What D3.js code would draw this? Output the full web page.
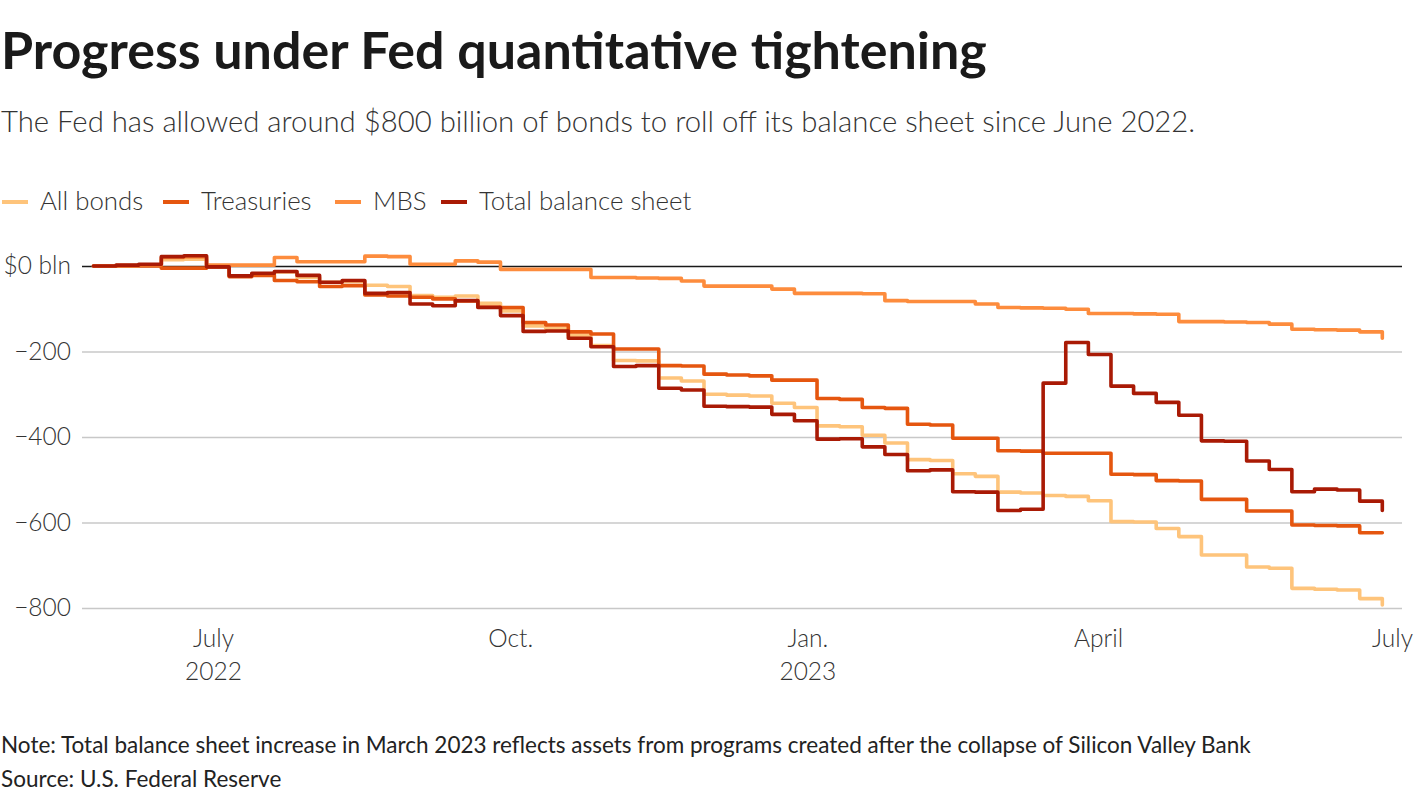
<!DOCTYPE html>
<html>
<head>
<meta charset="utf-8">
<script src="https://cdn.jsdelivr.net/npm/d3@7"></script>
<style>
body { margin: 0; background: #fff; }
svg text { font-family: Lato, "Noto Sans", sans-serif; fill: #222; }
</style>
</head>
<body>
<svg id="chart" width="1420" height="800"></svg>
<script>
// weekly (Wednesday) change since start of QT, $ bln
var dates = d3.timeWednesday.range(new Date(2022, 4, 25), new Date(2023, 5, 29));

var allBonds = [0, 1, 3, 15, 16, 0, -23, -20, -14, -27, -38, -36, -45, -48, -69, -73, -70, -87, -105, -140,
  -146, -162, -186, -221, -222, -262, -269, -300, -302, -304, -321, -331, -374, -376, -396, -414, -453, -455, -486, -492,
  -529, -531, -537, -539, -549, -598, -599, -614, -633, -676, -676, -704, -707, -754, -756, -758, -778, -793];
var treasuries = [0, 0, 0, -5, -5, -2, -25, -22, -34, -37, -48, -46, -68, -70, -73, -77, -82, -96, -97, -132,
  -138, -154, -159, -194, -194, -233, -234, -253, -255, -257, -267, -267, -310, -312, -331, -333, -370, -372, -403, -403,
  -432, -433, -438, -438, -438, -487, -488, -502, -503, -546, -546, -573, -573, -606, -607, -608, -624, -624];
var mbs = [0, 1, 3, 20, 21, 2, 2, 2, 20, 10, 10, 10, 23, 22, 4, 4, 12, 9, -8, -8,
  -8, -8, -27, -27, -28, -29, -35, -47, -47, -47, -54, -64, -64, -64, -65, -81, -83, -83, -83, -89,
  -97, -98, -99, -101, -111, -111, -112, -113, -130, -130, -131, -132, -136, -148, -149, -150, -154, -169];
var totalBalance = [0, 2, 4, 22, 24, -2, -23, -17, -13, -22, -38, -34, -64, -62, -89, -93, -81, -97, -116, -153,
  -152, -169, -189, -235, -233, -286, -290, -328, -329, -330, -347, -362, -405, -404, -423, -441, -479, -477, -528, -529,
  -572, -569, -274, -179, -207, -281, -298, -319, -349, -409, -410, -456, -476, -528, -522, -524, -550, -572];

var seriesNames = ["All bonds", "Treasuries", "MBS", "Total balance sheet"];
var seriesColors = ["#fec47b", "#e5560f", "#fd8c3d", "#a91a05"];
var yTicks = [0, -200, -400, -600, -800];
var xTickDates = [new Date(2022, 6, 1), new Date(2022, 9, 1), new Date(2023, 0, 1), new Date(2023, 3, 1), new Date(2023, 6, 1)];
var xTickLabels = ["July", "Oct.", "Jan.", "April", "July"];
var xTickYears = ["2022", "", "2023", "", ""];

var seriesValues = [allBonds, treasuries, mbs, totalBalance];

var svg = d3.select("#chart");

// titles
svg.append("text").attr("x", 1).attr("y", 69)
  .style("font-size", "52px").style("font-weight", 700).style("fill", "#1a1a1a")
  .text("Progress under Fed quantitative tightening");
svg.append("text").attr("x", 1).attr("y", 132)
  .style("font-size", "29.3px").style("font-weight", 300).style("fill", "#333")
  .text("The Fed has allowed around $800 billion of bonds to roll off its balance sheet since June 2022.");

// legend
var legendX = [2, 163, 335, 441];
var legend = svg.append("g");
seriesNames.forEach(function(name, i){
  legend.append("line")
    .attr("x1", legendX[i]).attr("x2", legendX[i] + 26)
    .attr("y1", 202).attr("y2", 202)
    .attr("stroke", seriesColors[i]).attr("stroke-width", 4);
  legend.append("text")
    .attr("x", legendX[i] + 38).attr("y", 210)
    .style("font-size", "25.8px").style("font-weight", 300).style("fill", "#333")
    .text(name);
});

// scales
var x = d3.scaleTime()
  .domain([dates[0], new Date(2023, 6, 1)])
  .range([93.5, 1392]);
var y = d3.scaleLinear().domain([0, -800]).range([266, 608]);

// y axis with gridlines
var yAxis = d3.axisLeft(y)
  .tickValues(yTicks)
  .tickSize(-(1402 - 82))
  .tickPadding(11)
  .tickFormat(function(d){ return d === 0 ? "$0 bln" : d3.format(",")(d); });
var gy = svg.append("g").attr("transform", "translate(82,0)").call(yAxis);
gy.select(".domain").remove();
gy.selectAll(".tick line")
  .attr("stroke", function(d){ return d === 0 ? "#1a1a1a" : "#c8c8c8"; })
  .attr("stroke-width", 1.5);
gy.selectAll(".tick text")
  .style("font-size", "24.5px").style("font-weight", 300).style("fill", "#333")
  .style("font-family", "Lato, sans-serif");

// x axis
var xAxis = d3.axisBottom(x).tickValues(xTickDates).tickSize(0).tickFormat("");
var gx = svg.append("g").attr("transform", "translate(0,620)").call(xAxis);
gx.select(".domain").remove();
gx.selectAll(".tick").each(function(d, i){
  var t = d3.select(this).append("text")
    .attr("text-anchor", "middle")
    .style("font-size", "24.5px").style("font-weight", 300).style("fill", "#333");
  t.append("tspan").attr("x", 0).attr("y", 27).text(xTickLabels[i]);
  if (xTickYears[i]) t.append("tspan").attr("x", 0).attr("y", 60).text(xTickYears[i]);
});

// lines
var line = d3.line()
  .x(function(d){ return x(d.date); })
  .y(function(d){ return y(d.value); })
  .curve(d3.curveStepAfter);

seriesValues.forEach(function(vals, i){
  var pts = dates.map(function(dt, j){ return {date: dt, value: vals[j]}; });
  svg.append("path")
    .datum(pts)
    .attr("fill", "none")
    .attr("stroke", seriesColors[i])
    .attr("stroke-width", 3.6)
    .attr("stroke-linejoin", "round")
    .attr("stroke-linecap", "round")
    .attr("d", line);
});

// notes
svg.append("text").attr("x", 1).attr("y", 753)
  .style("font-size", "22.5px").style("fill", "#222")
  .text("Note: Total balance sheet increase in March 2023 reflects assets from programs created after the collapse of Silicon Valley Bank");
svg.append("text").attr("x", 1).attr("y", 787)
  .style("font-size", "22.5px").style("fill", "#222")
  .text("Source: U.S. Federal Reserve");
</script>
</body>
</html>
